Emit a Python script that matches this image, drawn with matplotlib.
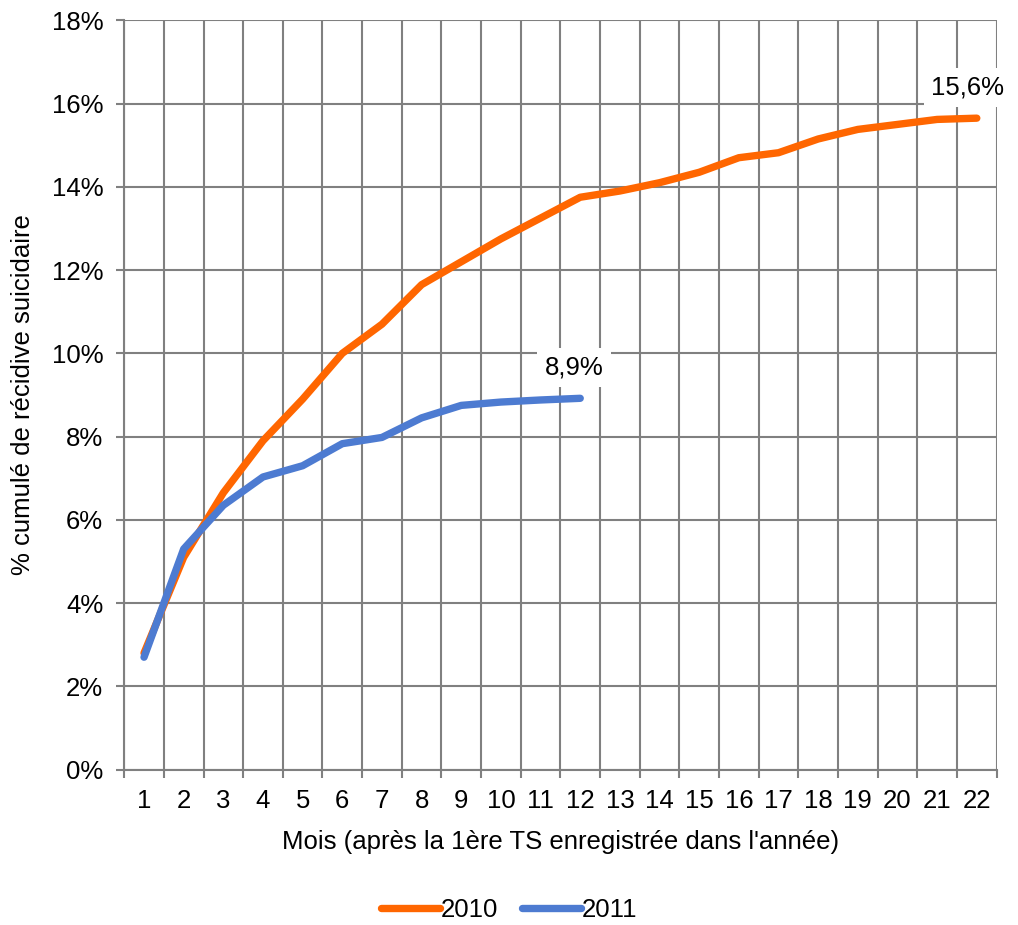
import matplotlib
matplotlib.use("Agg")
import matplotlib.pyplot as plt
import numpy as np

plt.rcParams["font.family"] = ["Liberation Sans", "DejaVu Sans"]

mois = list(range(1, 23))
serie_2010 = [2.8, 5.1, 6.65, 7.9, 8.9, 10.0, 10.7, 11.65, 12.2, 12.75, 13.25, 13.75,
              13.9, 14.1, 14.35, 14.7, 14.82, 15.15, 15.38, 15.5, 15.62, 15.65]
mois_2011 = list(range(1, 13))
serie_2011 = [2.7, 5.3, 6.35, 7.03, 7.3, 7.83, 7.98, 8.45, 8.75, 8.83, 8.88, 8.92]
label_2010 = "15,6%"
label_2011 = "8,9%"

ORANGE = "#FF6600"
BLUE = "#4D7BD1"
GRID = "#808080"
FS = 18.5


def main():
    fig = plt.figure(figsize=(10.18, 9.25), dpi=100)
    ax = fig.add_axes([0.122, 0.168, 0.857, 0.810])

    ax.plot(mois, serie_2010, color=ORANGE, lw=5.3, solid_capstyle="round",
            solid_joinstyle="round", label="2010", zorder=3)
    ax.plot(mois_2011, serie_2011, color=BLUE, lw=5.3, solid_capstyle="round",
            solid_joinstyle="round", label="2011", zorder=4)

    ax.set_xlim(0.5, 22.5)
    ax.set_ylim(0, 18)

    # gridlines sit on the category boundaries, labels in the middle
    ax.set_xticks(np.arange(0.5, 23, 1))
    ax.set_xticklabels([])
    ax.set_xticks(mois, minor=True)
    ax.set_xticklabels([str(m) for m in mois], minor=True, fontsize=FS)
    ax.tick_params(axis="x", which="major", length=6, width=1.5, color=GRID)
    ax.tick_params(axis="x", which="minor", length=0, pad=14)

    ax.set_yticks(np.arange(0, 19, 2))
    ax.set_yticklabels([f"{v}%" for v in range(0, 19, 2)], fontsize=FS)
    ax.tick_params(axis="y", length=6, width=1.5, color=GRID, pad=9)

    ax.grid(True, which="major", color=GRID, lw=1.5)
    ax.set_axisbelow(True)
    for side in ["top", "right"]:
        ax.spines[side].set_visible(False)
    for side in ["left", "bottom"]:
        ax.spines[side].set_color(GRID)
        ax.spines[side].set_linewidth(1.5)

    ax.set_xlabel("Mois (après la 1ère TS enregistrée dans l'année)", fontsize=FS, labelpad=12)
    ax.set_ylabel("% cumulé de récidive suicidaire", fontsize=FS, labelpad=12)

    box = dict(boxstyle="square,pad=0.3", fc="white", ec="none")
    ax.annotate(label_2010, (mois[-1], serie_2010[-1]), xytext=(-6.5, 22),
                textcoords="offset points", ha="center", va="center",
                fontsize=FS, bbox=box, zorder=5)
    ax.annotate(label_2011, (mois_2011[-1], serie_2011[-1]), xytext=(-4.3, 22),
                textcoords="offset points", ha="center", va="center",
                fontsize=FS, bbox=box, zorder=5)

    fig.legend(loc="center", bbox_to_anchor=(0.5, 0.016), ncol=2, frameon=False,
               fontsize=FS, handlelength=2.3, handletextpad=0.05, columnspacing=0.9)

    fig.savefig("out.png", dpi=100)


if __name__ == "__main__":
    main()
